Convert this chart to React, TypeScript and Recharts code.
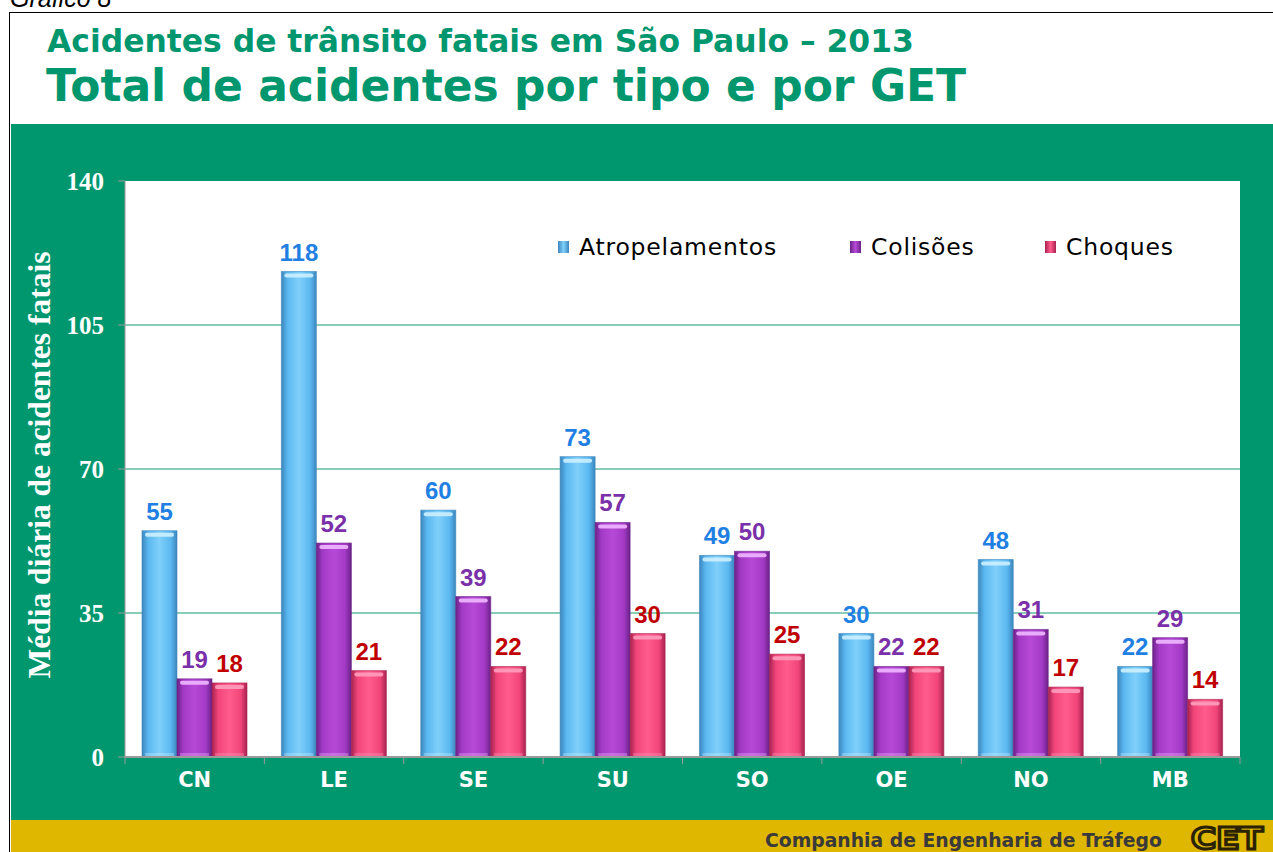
import { BarChart, Bar, XAxis, YAxis, CartesianGrid, LabelList } from 'recharts';

const regioes = ['CN', 'LE', 'SE', 'SU', 'SO', 'OE', 'NO', 'MB'];
const atropelamentos = [55, 118, 60, 73, 49, 30, 48, 22];
const colisoes = [19, 52, 39, 57, 50, 22, 31, 29];
const choques = [18, 21, 22, 30, 25, 22, 17, 14];
const yTicks = [0, 35, 70, 105, 140];
const gridValues = [35, 70, 105];

const data = regioes.map((r, i) => ({
  regiao: r,
  atropelamentos: atropelamentos[i],
  colisoes: colisoes[i],
  choques: choques[i],
}));

const GREEN = '#00976F';
const YELLOW = '#E0B700';

const series = [
  { key: 'atropelamentos', name: 'Atropelamentos', id: 'gBlue', light: '#7FD0FA', mid: '#5BB8F0', dark: '#3C86BE', cap: '#CDEFFF', label: '#1F7FE3', lx: 558 },
  { key: 'colisoes', name: 'Colisões', id: 'gPurple', light: '#B64AD6', mid: '#A33AC6', dark: '#6B2288', cap: '#F0B8FF', label: '#7A30A8', lx: 850 },
  { key: 'choques', name: 'Choques', id: 'gPink', light: '#FF5C8C', mid: '#F2457A', dark: '#A82350', cap: '#FF9DBC', label: '#C00000', lx: 1045 },
];

function BarShape(props: any) {
  const { x, y, width, height, s } = props;
  if (!height || height <= 0) return null;
  return (
    <g>
      <rect x={x} y={y} width={width} height={height} fill={`url(#${s.id})`} stroke={s.dark} strokeOpacity={0.6} strokeWidth={1} />
      <rect x={x + 3} y={y + 2} width={width - 6} height={4} rx={2} fill={s.cap} opacity={0.9} />
      <rect x={x + 3} y={y + height - 4} width={width - 6} height={3} fill={s.cap} opacity={0.35} />
    </g>
  );
}

function XTick(props: any) {
  const { x, y, payload, index } = props;
  const off = payload.offset || 0;
  return (
    <g>
      <line x1={x - off} x2={x - off} y1={y - 8} y2={y - 1} stroke="#9a9a9a" />
      {index === regioes.length - 1 && <line x1={x + off} x2={x + off} y1={y - 8} y2={y - 1} stroke="#9a9a9a" />}
      <text x={x} y={y + 22} textAnchor="middle" fill="#fff" fontFamily="DejaVu Sans" fontWeight="bold" fontSize={21}>
        {payload.value}
      </text>
    </g>
  );
}

export default function App() {
  return (
    <div style={{ position: 'fixed', left: 0, top: 0, width: 1273, height: 852, background: '#fff', overflow: 'hidden' }}>
      <div style={{ position: 'absolute', left: 10, top: -16, fontFamily: 'Liberation Sans', fontStyle: 'italic', fontSize: 25, color: '#000' }}>
        Gráfico 8
      </div>
      <div style={{ position: 'absolute', left: 9, top: 12, width: 1280, height: 860, border: '1px solid #000', boxSizing: 'border-box' }} />
      <div style={{ position: 'absolute', left: 47, top: 23, fontFamily: 'DejaVu Sans', fontWeight: 'bold', fontSize: 31.4, color: GREEN, whiteSpace: 'nowrap' }}>
        Acidentes de trânsito fatais em São Paulo – 2013
      </div>
      <div style={{ position: 'absolute', left: 46, top: 60, fontFamily: 'DejaVu Sans', fontWeight: 'bold', fontSize: 44, color: GREEN, whiteSpace: 'nowrap' }}>
        Total de acidentes por tipo e por GET
      </div>
      <div style={{ position: 'absolute', left: 11, top: 124, width: 1262, height: 696, background: GREEN }} />
      <div style={{ position: 'absolute', left: 11, top: 820, width: 1262, height: 32, background: YELLOW }} />
      <div style={{ position: 'absolute', left: 765, top: 830, fontFamily: 'DejaVu Sans', fontWeight: 'bold', fontSize: 18.8, color: '#3a3a3a', whiteSpace: 'nowrap' }}>
        Companhia de Engenharia de Tráfego
      </div>
      <svg style={{ position: 'absolute', left: 1188, top: 822 }} width={80} height={30}>
        <text x={3} y={27} fontFamily="DejaVu Sans" fontWeight="bold" fontSize={30} fill={YELLOW} stroke="#2a2200" strokeWidth={3} textLength={72} lengthAdjust="spacingAndGlyphs">
          CET
        </text>
      </svg>
      <div style={{ position: 'absolute', left: 24, top: 465, width: 0, height: 0 }}>
        <div style={{ transform: 'translate(-50%, -50%) rotate(-90deg)', whiteSpace: 'nowrap', fontFamily: 'Liberation Serif', fontWeight: 'bold', fontSize: 31.5, color: '#fff', position: 'absolute', left: 16, top: 0 }}>
          Média diária de acidentes fatais
        </div>
      </div>
      <div style={{ position: 'absolute', left: 0, top: 0 }}>
        <BarChart
          width={1273}
          height={852}
          data={data}
          margin={{ top: 181, right: 33, bottom: 58, left: 65 }}
          barSize={35}
          barGap={0}
        >
          <defs>
            {series.map(s => (
              <linearGradient key={s.id} id={s.id} x1="0" y1="0" x2="1" y2="0">
                <stop offset="0%" stopColor={s.dark} />
                <stop offset="18%" stopColor={s.mid} />
                <stop offset="50%" stopColor={s.light} />
                <stop offset="82%" stopColor={s.mid} />
                <stop offset="100%" stopColor={s.dark} />
              </linearGradient>
            ))}
          </defs>
          <CartesianGrid vertical={false} fill="#fff" stroke="#129B77" strokeWidth={1.2} horizontalValues={gridValues} />
          <XAxis
            dataKey="regiao"
            axisLine={{ stroke: '#9a9a9a', strokeWidth: 2 }}
            tickLine={false}
            tick={<XTick />}
            height={37}
            interval={0}
          />
          <YAxis
            domain={[0, 140]}
            ticks={yTicks}
            width={60}
            axisLine={{ stroke: '#9a9a9a' }}
            tickLine={{ stroke: '#9a9a9a' }}
            tickSize={7}
            tickMargin={14}
            tick={{ fill: '#fff', fontFamily: 'Liberation Serif', fontWeight: 'bold', fontSize: 25 }}
          />
          {series.map(s => (
            <Bar key={s.key} dataKey={s.key} name={s.name} isAnimationActive={false} shape={(p: any) => <BarShape {...p} s={s} />}>
              <LabelList dataKey={s.key} position="top" offset={11} fill={s.label} fontFamily="Liberation Sans" fontWeight="bold" fontSize={24} />
            </Bar>
          ))}
        </BarChart>
      </div>
      {series.map(s => (
        <div key={s.key} style={{ position: 'absolute', left: s.lx, top: 232, height: 30, display: 'flex', alignItems: 'center', fontFamily: 'DejaVu Sans', fontSize: 23.5, color: '#000', whiteSpace: 'nowrap', letterSpacing: 0.8 }}>
          <div style={{ width: 11, height: 12, marginRight: 10, background: `linear-gradient(90deg, ${s.dark}, ${s.light} 50%, ${s.dark})` }} />
          {s.name}
        </div>
      ))}
    </div>
  );
}
